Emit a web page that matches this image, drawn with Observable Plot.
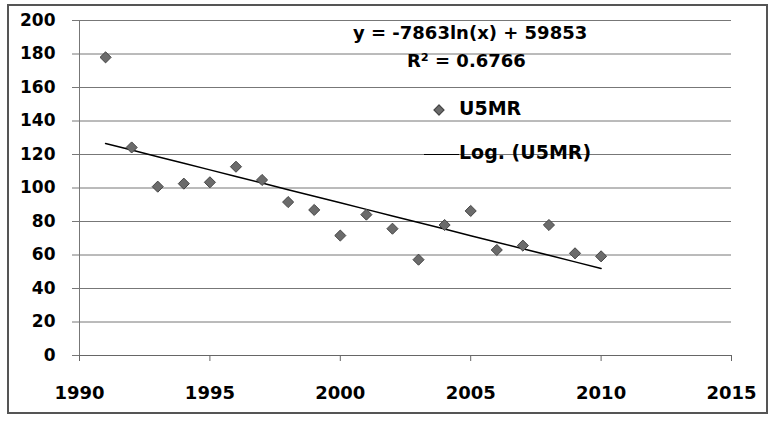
<!DOCTYPE html>
<html>
<head>
<meta charset="utf-8">
<script src="https://cdn.jsdelivr.net/npm/d3@7"></script>
<script src="https://cdn.jsdelivr.net/npm/@observablehq/plot@0.6"></script>
<style>
  html, body { margin: 0; padding: 0; background: #fff; }
  #wrap { position: relative; width: 780px; height: 423px; font-family: "DejaVu Sans", "Liberation Sans", Arial, sans-serif; font-weight: bold; color: #000; }
  #border { position: absolute; left: 7px; top: 4px; width: 757px; height: 406px; border: 2px solid #555; pointer-events: none; }
  .ann { position: absolute; white-space: nowrap; font-size: 18px; line-height: normal; }
  .sw-diamond { position: absolute; width: 6px; height: 6px; background: #6b6b6b; border: 1px solid #444; transform: rotate(45deg); }
  .sw-line { position: absolute; height: 0; border-top: 1.5px solid #000; }
</style>
</head>
<body>
<div id="wrap">
  <div id="chart"></div>
  <div id="border"></div>
  <div class="ann" id="eq" style="left:353px; top:22px;"></div>
  <div class="ann" id="r2" style="left:407px; top:50px;"></div>
  <div class="sw-diamond" style="left:435px; top:106px;"></div>
  <div class="ann" id="leg1" style="left:459px; top:97px; font-size:19px;"></div>
  <div class="sw-line" style="left:424px; top:154px; width:35px;"></div>
  <div class="ann" id="leg2" style="left:459px; top:141px; font-size:19px;"></div>
</div>
<script>
const years = [1991,1992,1993,1994,1995,1996,1997,1998,1999,2000,2001,2002,2003,2004,2005,2006,2007,2008,2009,2010];
const u5mr  = [178,124.2,100.8,102.6,103.4,112.7,104.8,91.6,86.9,71.6,84.1,75.7,57.2,77.9,86.3,63.0,65.6,77.9,61.0,59.2];
const yTicks = [0,20,40,60,80,100,120,140,160,180,200];
const xTicks = [1990,1995,2000,2005,2010,2015];
const seriesName = "U5MR";
const trendName = "Log. (U5MR)";
const equationText = "y = -7863ln(x) + 59853";
const r2Text = "R² = 0.6766";

const data = years.map((y, i) => ({year: y, value: u5mr[i]}));

// logarithmic least-squares fit (as Excel's Log trendline), derived from data
const lx = years.map(Math.log);
const mx = d3.mean(lx), my = d3.mean(u5mr);
const slope = d3.sum(lx.map((v, i) => (v - mx) * (u5mr[i] - my))) / d3.sum(lx.map(v => (v - mx) ** 2));
const intercept = my - slope * mx;
const trend = years.map(y => ({year: y, value: slope * Math.log(y) + intercept}));

const chart = Plot.plot({
  width: 780,
  height: 423,
  marginLeft: 79,
  marginRight: 49,
  marginTop: 20,
  marginBottom: 68,
  style: {fontFamily: '"DejaVu Sans", "Liberation Sans", Arial, sans-serif', fontWeight: "bold", color: "#000", background: "transparent"},
  x: {domain: [1990, 2015]},
  y: {domain: [0, 200]},
  marks: [
    Plot.gridY(yTicks, {stroke: "#777", strokeOpacity: 1, strokeWidth: 1}),
    Plot.axisY(yTicks, {tickSize: 7, tickPadding: 17, stroke: "#777", fontSize: 17, label: null}),
    Plot.axisX(xTicks, {tickSize: 6, tickPadding: 25, stroke: "#666", fontSize: 18, label: null, tickFormat: d => String(d)}),
    Plot.ruleX([1990], {stroke: "#777"}),
    Plot.ruleY([0], {stroke: "#666"}),
    Plot.line(trend, {x: "year", y: "value", stroke: "#000", strokeWidth: 1.5}),
    Plot.dot(data, {x: "year", y: "value", symbol: "diamond2", r: 5, fill: "#6b6b6b", stroke: "#444", strokeWidth: 1})
  ]
});
document.getElementById("chart").appendChild(chart);
document.getElementById("eq").textContent = equationText;
document.getElementById("r2").textContent = r2Text;
document.getElementById("leg1").textContent = seriesName;
document.getElementById("leg2").textContent = trendName;
</script>
</body>
</html>
